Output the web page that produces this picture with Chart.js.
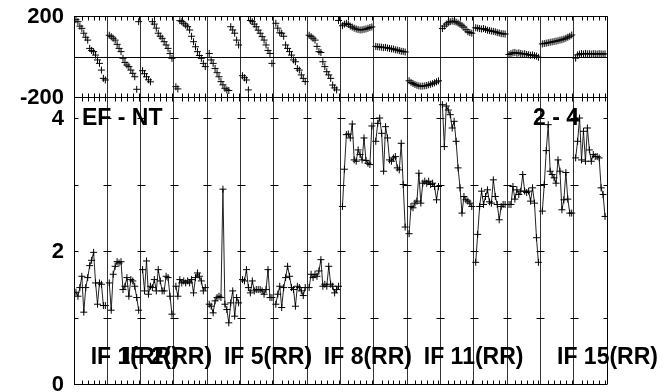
<!DOCTYPE html>
<html>
<head>
<meta charset="utf-8">
<script src="https://cdn.jsdelivr.net/npm/chart.js@4"></script>
<style>
  html, body { margin: 0; padding: 0; background: #fff; }
</style>
</head>
<body>
<canvas id="c" width="663" height="392"></canvas>
<script>
// amplitude per IF (16 channels each)
const amp01 = [1.38, 1.32, 1.45, 1.62, 1.08, 1.45, 1.60, 1.78, 1.86, 1.98, 1.52, 1.20, 1.52, 1.50, 1.18, 1.18];
const amp02 = [1.52, 1.11, 1.65, 1.77, 1.84, 1.82, 1.84, 1.42, 1.47, 1.60, 1.32, 1.57, 1.55, 1.47, 1.30, 1.11];
const amp03 = [1.72, 1.40, 1.85, 1.35, 1.47, 1.45, 1.57, 1.40, 1.72, 1.55, 1.40, 1.40, 1.62, 1.60, 1.32, 1.05];
const amp04 = [1.47, 1.32, 1.57, 1.52, 1.55, 1.52, 1.55, 1.52, 1.57, 1.37, 1.60, 1.67, 1.62, 1.55, 1.40, 1.45];
const amp05 = [1.20, 1.17, 1.07, 1.25, 1.30, 1.32, 1.30, 2.93, 1.20, 1.12, 0.92, 1.22, 1.40, 1.02, 1.30, 1.22];
const amp06 = [1.57, 1.55, 1.72, 1.45, 1.37, 1.55, 1.40, 1.42, 1.42, 1.42, 1.40, 1.35, 1.42, 1.72, 1.30, 1.30];
const amp07 = [1.20, 1.35, 1.47, 1.15, 1.45, 1.60, 1.77, 1.62, 1.45, 1.42, 1.17, 1.47, 1.45, 1.40, 1.33, 1.45];
const amp08 = [1.45, 1.65, 1.60, 1.65, 1.62, 1.70, 1.87, 1.47, 1.50, 1.47, 1.77, 1.50, 1.47, 1.37, 1.42, 1.47];
const amp09 = [2.67, 3.23, 3.75, 3.76, 3.70, 3.91, 3.37, 3.35, 3.52, 3.45, 3.37, 3.70, 3.36, 3.32, 3.30, 3.88];
const amp10 = [3.65, 3.92, 4.00, 3.77, 3.20, 3.87, 3.70, 3.37, 3.35, 3.40, 3.42, 3.25, 3.22, 3.62, 3.00, 2.36];
const amp11 = [2.26, 2.67, 2.65, 2.72, 2.75, 3.17, 2.72, 3.02, 3.05, 3.02, 3.05, 3.00, 3.02, 2.97, 2.77, 2.97];
const amp12 = [4.20, 3.57, 4.18, 4.12, 4.05, 3.85, 3.95, 3.65, 3.25, 2.95, 2.57, 2.82, 2.77, 2.75, 2.72, 2.67];
const amp13 = [1.83, 2.25, 2.67, 2.90, 2.70, 2.82, 2.92, 2.74, 2.72, 3.07, 2.82, 2.70, 2.47, 2.67, 2.70, 2.70];
const amp14 = [2.70, 2.70, 2.97, 2.78, 2.92, 2.85, 2.90, 3.15, 2.90, 2.88, 2.90, 2.75, 2.95, 2.72, 2.20, 1.83];
const amp15 = [2.60, 3.00, 3.51, 3.90, 3.20, 3.15, 3.10, 3.02, 3.37, 3.20, 2.62, 2.77, 3.18, 2.78, 2.57, 2.57];
const amp16 = [3.40, 3.65, 4.00, 3.37, 3.80, 3.35, 3.85, 3.52, 3.35, 3.45, 3.42, 3.42, 3.40, 2.95, 2.85, 2.52];

// phase per IF (degrees), upper panel
const ph01 = [182, 172, 150, 139, 115, 95, 81, 40, 30, 24, 7, -17, -34, -67, -108, -116];
const ph02 = [105, 98, 90, 81, 60, 40, 24, -9, -30, -42, -50, -67, -83, -100, -162, 172];
const ph03 = [-70, -85, -100, -115, -125, 172, 160, 140, 115, 100, 90, 73, 57, 40, 15, -9];
const ph04 = [-149, -160, 177, 172, 164, 155, 147, 131, 100, 73, 48, 24, 5, -9, -34, -50];
const ph05 = [15, -17, -34, -59, -80, -100, -124, -140, -157, -165, -168, 147, 131, 115, 81, 57];
const ph06 = [-95, -105, -116, -165, 178, 172, 160, 147, 130, 115, 98, 81, 57, 30, 15, -34];
const ph07 = [164, 140, 117, 115, 100, 57, 40, 24, 7, -17, -26, -59, -67, -91, -108, -124];
const ph08 = [105, 98, 90, 81, 50, 24, 20, -26, -50, -75, -91, -108, -141, -155, -165, 178];
const ph09 = [152, 160, 164, 158, 150, 145, 140, 136, 133, 131, 132, 134, 136, 139, 143, 146];
const ph10 = [50, 48, 47, 46, 44, 45, 42, 40, 38, 37, 33, 32, 29, 26, 25, 22];
const ph11 = [-120, -128, -133, -138, -142, -145, -147, -146, -145, -143, -140, -137, -134, -130, -125, -120];
const ph12 = [138, 150, 160, 167, 172, 175, 173, 170, 165, 160, 152, 145, 132, 122, 118, 115];
const ph13 = [142, 140, 138, 136, 138, 134, 130, 128, 126, 124, 122, 118, 116, 113, 112, 111];
const ph14 = [10, 14, 18, 20, 16, 18, 15, 12, 14, 10, 9, 6, 8, 4, 2, -4];
const ph15 = [62, 64, 66, 68, 70, 72, 74, 76, 78, 81, 83, 86, 90, 95, 100, 106];
const ph16 = [-8, 8, 12, 14, 12, 15, 13, 14, 12, 14, 13, 12, 14, 13, 12, 13];

// IF names drawn under the curves, and the panel captions
const ifNumbers = [1, 2, 5, 8, 11, 15];
const ifNames = ifNumbers.map(n => 'IF ' + n + '(RR)');
const leftCaption = 'EF - NT';
const rightCaption = '2 - 4';
const phaseTicks = [-200, 200];
const ampTicks = [0, 2, 4];
const ampMarks = [1, 2, 3, 4];

const ampSeries = [amp01, amp02, amp03, amp04, amp05, amp06, amp07, amp08,
                   amp09, amp10, amp11, amp12, amp13, amp14, amp15, amp16];
const phSeries = [ph01, ph02, ph03, ph04, ph05, ph06, ph07, ph08,
                  ph09, ph10, ph11, ph12, ph13, ph14, ph15, ph16];

const SECTION = 17;                 // x units per IF box (16 channels + margin)
const NIF = ampSeries.length;
const boundaries = [];
for (let s = 0; s <= NIF; s++) boundaries.push(s * SECTION);
const chanTicks = [4, 7, 10, 13, 16];

const toPoints = (vals, s) => vals.map((v, i) => ({ x: s * SECTION + 1 + i, y: v }));

const datasets = [];
ampSeries.forEach((vals, s) => datasets.push({
  data: toPoints(vals, s),
  yAxisID: 'yAmp',
  showLine: true,
  borderColor: '#222',
  borderWidth: 1,
  pointStyle: 'cross',
  pointRadius: 3.5,
  pointBorderColor: '#000',
  pointBorderWidth: 1
}));
phSeries.forEach((vals, s) => datasets.push({
  data: toPoints(vals, s),
  yAxisID: 'yPh',
  showLine: false,
  pointStyle: 'cross',
  pointRadius: 3.5,
  pointBorderColor: '#000',
  pointBorderWidth: 1
}));

const FONT = '"Liberation Sans", Arial, sans-serif';
const px = v => Math.round(v) + 0.5;

// frame, zero line, the little ticks of each IF box, and all texts
const frame = {
  id: 'frame',
  beforeDatasetsDraw(chart) {
    const { ctx, chartArea: a, scales: { x, yPh, yAmp } } = chart;
    const yTop = px(yPh.getPixelForValue(200));
    const yMid = px(yPh.getPixelForValue(-200));
    const yZero = px(yPh.getPixelForValue(0));
    const yBot = px(yAmp.getPixelForValue(0));
    ctx.save();
    ctx.strokeStyle = '#000';
    ctx.lineWidth = 1;
    ctx.beginPath();
    [yTop, yMid, yZero, yBot].forEach(y => { ctx.moveTo(a.left, y); ctx.lineTo(a.right, y); });
    [px(a.left), px(a.right)].forEach(xx => { ctx.moveTo(xx, yTop); ctx.lineTo(xx, yBot); });
    for (let s = 0; s < NIF; s++) {
      chanTicks.forEach(c => {
        const xx = px(x.getPixelForValue(s * SECTION + c));
        ctx.moveTo(xx, yTop); ctx.lineTo(xx, yTop + 4);
        ctx.moveTo(xx, yMid - 4); ctx.lineTo(xx, yMid + 4);
        ctx.moveTo(xx, yBot); ctx.lineTo(xx, yBot - 4);
      });
    }
    boundaries.forEach((b, k) => {
      const xx = px(x.getPixelForValue(b));
      ampMarks.forEach(v => {
        const yy = px(yAmp.getPixelForValue(v));
        ctx.moveTo(k === 0 ? xx : xx - 4, yy);
        ctx.lineTo(k === boundaries.length - 1 ? xx : xx + 4, yy);
      });
    });
    ctx.stroke();
    ctx.restore();
  },
  afterDatasetsDraw(chart) {
    const { ctx, chartArea: a, scales: { x, yPh, yAmp } } = chart;
    ctx.save();
    ctx.fillStyle = '#000';
    ctx.font = 'bold 22px ' + FONT;
    ctx.textAlign = 'right';
    ctx.textBaseline = 'middle';
    phaseTicks.forEach(v => ctx.fillText(String(v), a.left - 10, yPh.getPixelForValue(v) + 1));
    ampTicks.forEach(v => ctx.fillText(String(v), a.left - 10, yAmp.getPixelForValue(v) + 1));
    ctx.textBaseline = 'alphabetic';
    ctx.font = 'bold 23px ' + FONT;
    ctx.textAlign = 'left';
    ctx.fillText(leftCaption, a.left + 8, 125);
    ctx.textAlign = 'right';
    ctx.fillText(rightCaption, a.right - 28, 125);
    ctx.textAlign = 'left';
    ifNumbers.forEach((n, k) => {
      ctx.fillText(ifNames[k], x.getPixelForValue((n - 1) * SECTION + SECTION / 2), 364);
    });
    ctx.restore();
  }
};

new Chart(document.getElementById('c'), {
  type: 'scatter',
  data: { datasets },
  options: {
    responsive: false,
    animation: false,
    layout: { padding: { top: 16, right: 56, bottom: 8, left: 0 } },
    plugins: { legend: { display: false }, tooltip: { enabled: false } },
    scales: {
      x: {
        type: 'linear',
        min: 0,
        max: NIF * SECTION,
        afterBuildTicks: axis => { axis.ticks = boundaries.map(v => ({ value: v })); },
        ticks: { display: false },
        grid: { color: '#333', lineWidth: 1, drawTicks: false },
        border: { display: false },
        afterFit: s => { s.height = 0; }
      },
      yAmp: {
        type: 'linear',
        position: 'left',
        stack: 'panels',
        stackWeight: 287,
        min: 0,
        max: 4.316,
        ticks: { display: false },
        grid: { display: false, drawTicks: false },
        border: { display: false },
        afterFit: s => { s.width = 74; }
      },
      yPh: {
        type: 'linear',
        position: 'left',
        stack: 'panels',
        stackWeight: 81,
        min: -200,
        max: 200,
        ticks: { display: false },
        grid: { display: false, drawTicks: false },
        border: { display: false },
        afterFit: s => { s.width = 74; }
      }
    }
  },
  plugins: [frame]
});
</script>
</body>
</html>
